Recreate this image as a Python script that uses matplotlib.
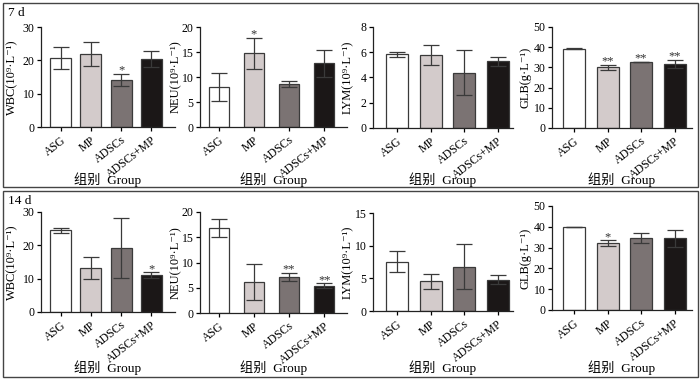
import matplotlib
matplotlib.use("Agg")
import matplotlib.pyplot as plt
from matplotlib.patches import Rectangle

plt.rcParams['font.family'] = ['Liberation Serif', 'Noto Sans CJK SC', 'DejaVu Serif']

groups = ["ASG", "MP", "ADSCs", "ADSCs+MP"]
bar_colors = ["#ffffff", "#d3cbcb", "#7b7373", "#1b1717"]
xlabel = "组别  Group"

ylabels = ["WBC(10⁹·L⁻¹)", "NEU(10⁹·L⁻¹)", "LYM(10⁹·L⁻¹)", "GLB(g·L⁻¹)"]

# day 7
d7_mean = [[20.7, 22.0, 14.1, 20.4],
           [8.1, 14.8, 8.6, 12.8],
           [5.85, 5.77, 4.39, 5.29],
           [39.2, 30.0, 32.8, 31.7]]
d7_err = [[3.4, 3.6, 1.9, 2.3],
          [2.8, 3.1, 0.6, 2.7],
          [0.2, 0.8, 1.8, 0.37],
          [0.2, 1.4, 0.1, 2.1]]
d7_sig = [["", "", "*", ""],
          ["", "*", "", ""],
          ["", "", "", ""],
          ["", "**", "**", "**"]]

# day 14
d14_mean = [[24.5, 13.2, 19.2, 11.1],
            [16.8, 6.1, 7.2, 5.4],
            [7.55, 4.54, 6.8, 4.8],
            [39.9, 32.1, 34.5, 34.5]]
d14_err = [[0.7, 3.3, 9.0, 0.8],
           [1.8, 3.6, 0.8, 0.5],
           [1.6, 1.15, 3.4, 0.65],
           [0.2, 1.5, 2.4, 4.0]]
d14_sig = [["", "", "", "*"],
           ["", "", "**", "**"],
           ["", "", "", ""],
           ["", "*", "", ""]]

d7_ticks = [[0, 10, 20, 30], [0, 5, 10, 15, 20], [0, 2, 4, 6, 8], [0, 10, 20, 30, 40, 50]]
d14_ticks = [[0, 10, 20, 30], [0, 5, 10, 15, 20], [0, 5, 10, 15], [0, 10, 20, 30, 40, 50]]

W, H = 700, 380
fig = plt.figure(figsize=(W / 100, H / 100), dpi=100)

# column layout in pixels: axis left, axis right, first bar centre, spacing, bar width, ylabel x
cols = [(41, 175, 60.5, 30.3, 21, 12),
        (200, 347, 218.5, 35.3, 20, 176),
        (373, 513, 397, 33.6, 22, 348),
        (552, 692, 574, 33.5, 22, 526)]
# rows: (top px, zero px) per column
rows = [[(27, 127), (27, 127), (27, 128), (27, 128)],
        [(212, 312), (212, 313), (213, 311), (206, 310)]]
xlabel_y = [180, 368]

days = [("7 d", d7_mean, d7_err, d7_sig, d7_ticks),
        ("14 d", d14_mean, d14_err, d14_sig, d14_ticks)]

for r, (day, means, errs, sigs, ticks) in enumerate(days):
    for c in range(4):
        L, R, c0, sp, bw, ylx = cols[c]
        top, zero = rows[r][c]
        ax = fig.add_axes([L / W, 1 - zero / H, (R - L) / W, (zero - top) / H])
        xs = list(range(len(groups)))
        ax.bar(xs, means[c], width=bw / sp, color=bar_colors,
               edgecolor="#3a3a3a", linewidth=0.9, zorder=2)
        ax.errorbar(xs, means[c], yerr=errs[c], fmt="none", ecolor="#3a3a3a",
                    elinewidth=0.9, capsize=5.5, capthick=0.9, zorder=3)
        for i, s in enumerate(sigs[c]):
            if s:
                ax.annotate(s, (i, means[c][i] + errs[c][i]), xytext=(0, -2),
                            textcoords="offset points", ha="center", va="bottom",
                            fontsize=9, color="#333333")
        ax.set_xlim((L - c0) / sp, (R - c0) / sp)
        ax.set_ylim(0, ticks[c][-1])
        ax.set_yticks(ticks[c])
        ax.set_xticks(xs)
        ax.set_xticklabels(groups, rotation=38, ha="right", rotation_mode="anchor",
                           fontsize=8.5)
        ax.tick_params(axis="y", labelsize=8.5, length=3, width=0.9, pad=1.5)
        ax.tick_params(axis="x", length=3, width=0.9, pad=2)
        for sp_name in ["top", "right"]:
            ax.spines[sp_name].set_visible(False)
        for sp_name in ["left", "bottom"]:
            ax.spines[sp_name].set_linewidth(0.9)
            ax.spines[sp_name].set_color("#222222")
        fig.text(ylx / W, 1 - (top + zero) / 2 / H, ylabels[c], rotation=90,
                 fontsize=9, ha="center", va="center")
        fig.text((L + R) / 2 / W, 1 - xlabel_y[r] / H, xlabel, fontsize=9.5,
                 ha="center", va="center")

    y0 = 3 if r == 0 else 191
    y1 = 187 if r == 0 else 377
    fig.patches.append(Rectangle((3 / W, 1 - y1 / H), 695 / W, (y1 - y0) / H,
                                 transform=fig.transFigure, fill=False,
                                 edgecolor="#444444", linewidth=1.0))
    fig.text(8 / W, 1 - (y0 + 10) / H, day, fontsize=9.5, va="center", ha="left")

fig.savefig("out.png", dpi=100)
